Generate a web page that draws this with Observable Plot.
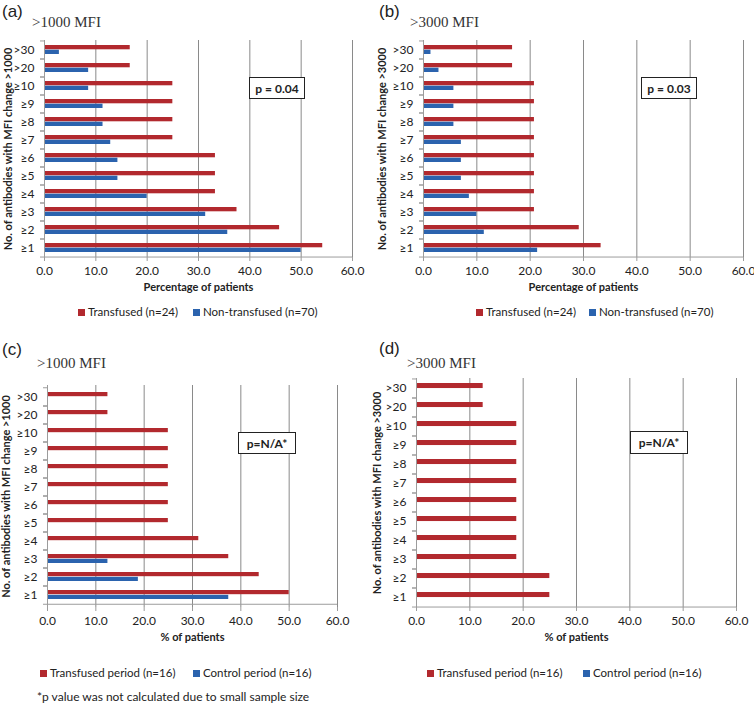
<!DOCTYPE html>
<html><head><meta charset="utf-8">
<script src="https://cdn.jsdelivr.net/npm/d3@7"></script>
<script src="https://cdn.jsdelivr.net/npm/@observablehq/plot@0.6"></script>
<style>
body{margin:0;background:#fff;}
#root{position:relative;width:754px;height:705px;overflow:hidden;font-family:Lato,sans-serif;color:#222;}
.letter{position:absolute;font-family:"Liberation Sans",Arial,sans-serif;font-size:17px;line-height:18px;color:#222;}
.sub{position:absolute;font-family:"Liberation Serif","Times New Roman",serif;font-size:15px;line-height:18px;color:#333;white-space:nowrap;}
.pbox{position:absolute;border:1px solid #222;box-sizing:border-box;font:bold 12px Lato,sans-serif;display:flex;align-items:center;justify-content:center;background:#fff;}
.leg{position:absolute;font:11.5px Lato,sans-serif;line-height:14px;color:#222;white-space:nowrap;display:flex;align-items:center;}
.sw{display:inline-block;width:7px;height:7px;margin-right:3px;}
.foot{position:absolute;font:12px Lato,sans-serif;line-height:14px;color:#222;white-space:nowrap;}
.chart{position:absolute;}
</style>
</head><body>
<div id="root"></div>
<script>
// ---- data ----
const categories = [">30", ">20", "≥10", "≥9", "≥8", "≥7", "≥6", "≥5", "≥4", "≥3", "≥2", "≥1"];
const xTicks = [0, 10, 20, 30, 40, 50, 60];

const aTransfused    = [16.7, 16.7, 25.0, 25.0, 25.0, 25.0, 33.3, 33.3, 33.3, 37.5, 45.8, 54.2];
const aNonTransfused = [2.9, 8.6, 8.6, 11.4, 11.4, 12.9, 14.3, 14.3, 20.0, 31.4, 35.7, 50.0];

const bTransfused    = [16.7, 16.7, 20.8, 20.8, 20.8, 20.8, 20.8, 20.8, 20.8, 20.8, 29.2, 33.3];
const bNonTransfused = [1.4, 2.9, 5.7, 5.7, 5.7, 7.1, 7.1, 7.1, 8.6, 10.0, 11.4, 21.4];

const cTransfusedPeriod = [12.5, 12.5, 25.0, 25.0, 25.0, 25.0, 25.0, 25.0, 31.3, 37.5, 43.8, 50.0];
const cControlPeriod    = [0, 0, 0, 0, 0, 0, 0, 0, 0, 12.5, 18.8, 37.5];

const dTransfusedPeriod = [12.5, 12.5, 18.8, 18.8, 18.8, 18.8, 18.8, 18.8, 18.8, 18.8, 25.0, 25.0];
const dControlPeriod    = [0, 0, 0, 0, 0, 0, 0, 0, 0, 0, 0, 0];

const RED = "#B2292E";
const BLUE = "#2B63AE";

const root = document.getElementById("root");

function addDiv(cls, style, html) {
  const d = document.createElement("div");
  d.className = cls;
  Object.assign(d.style, style);
  d.innerHTML = html;
  root.appendChild(d);
  return d;
}

function panel(o) {
  const step = o.plotH / categories.length;
  const bw = step * 0.52;
  const rows = categories.map((c, i) => ({cat: c, t: o.transf[i], v: o.other[i]}));
  const svg = Plot.plot({
    width: o.width, height: o.height,
    marginLeft: o.marginLeft, marginRight: o.marginRight,
    marginTop: 10, marginBottom: o.height - 10 - o.plotH,
    style: "background:transparent;overflow:visible;font-family:Lato,sans-serif;font-size:12px;color:#222;",
    x: {domain: [0, 60], label: null},
    y: {domain: categories, paddingInner: 0.48, paddingOuter: 0.24, label: null},
    marks: [
      Plot.ruleX(xTicks.slice(1), {stroke: "#8a8a8a", strokeWidth: 1}),
      Plot.barX(rows, {y: "cat", x1: 0, x2: "t", fill: RED, insetBottom: bw / 2}),
      Plot.barX(rows, {y: "cat", x1: 0, x2: "v", fill: BLUE, insetTop: bw / 2}),
      Plot.ruleX([0], {stroke: "#9c9c9c"}),
      Plot.ruleY([categories[categories.length - 1]], {y: d => d, dy: step / 2, stroke: "#9c9c9c"}),
      Plot.axisX({ticks: xTicks, tickFormat: d3.format(".1f"), tickSize: 4, tickPadding: 5, stroke: "#9c9c9c", fill: "#222", fontSize: 12, label: null}),
      Plot.axisY({tickSize: 0, tickPadding: 10, fill: "#222", fontSize: 12, label: null}),
      Plot.axisY({tickSize: 4, tickFormat: () => "", dy: step / 2, stroke: "#9c9c9c", label: null}),
      Plot.axisY({tickSize: 4, tickFormat: () => "", dy: -step / 2, stroke: "#9c9c9c", label: null}),
      Plot.text([o.xlabel], {text: d => d, frameAnchor: "bottom", dy: 33, fontWeight: "bold", fontSize: 11, fill: "#222"}),
      Plot.text([o.ylabel], {text: d => d, frameAnchor: "left", textAnchor: "middle", lineAnchor: "middle", rotate: -90, dx: o.ytitleDx, fontWeight: "bold", fontSize: 11, fill: "#222"})
    ]
  });
  const wrap = document.createElement("div");
  wrap.className = "chart";
  wrap.style.left = o.left + "px";
  wrap.style.top = o.top + "px";
  wrap.appendChild(svg);
  root.appendChild(wrap);
}

panel({left: 0, top: 30, width: 377, height: 275, marginLeft: 44, marginRight: 25, plotH: 217,
  transf: aTransfused, other: aNonTransfused, xlabel: "Percentage of patients",
  ylabel: "No. of antibodies with MFI change >1000", ytitleDx: -36});
panel({left: 377, top: 30, width: 377, height: 275, marginLeft: 46, marginRight: 11, plotH: 217,
  transf: bTransfused, other: bNonTransfused, xlabel: "Percentage of patients",
  ylabel: "No. of antibodies with MFI change >3000", ytitleDx: -41});
panel({left: 0, top: 375, width: 377, height: 277, marginLeft: 47, marginRight: 40, plotH: 222,
  transf: cTransfusedPeriod, other: cControlPeriod, xlabel: "% of patients",
  ylabel: "No. of antibodies with MFI change >1000", ytitleDx: -41});
panel({left: 365, top: 368, width: 389, height: 284, marginLeft: 51, marginRight: 18, plotH: 229,
  transf: dTransfusedPeriod, other: dControlPeriod, xlabel: "% of patients",
  ylabel: "No. of antibodies with MFI change >3000", ytitleDx: -39});

// panel letters and subtitles
addDiv("letter", {left: "2px", top: "3px"}, "(a)");
addDiv("letter", {left: "379px", top: "3px"}, "(b)");
addDiv("letter", {left: "2px", top: "341px"}, "(c)");
addDiv("letter", {left: "379px", top: "340px"}, "(d)");
addDiv("sub", {left: "32px", top: "13px"}, "&gt;1000 MFI");
addDiv("sub", {left: "410px", top: "13px"}, "&gt;3000 MFI");
addDiv("sub", {left: "37px", top: "354px"}, "&gt;1000 MFI");
addDiv("sub", {left: "407px", top: "354px"}, "&gt;3000 MFI");

// p-value boxes
addDiv("pbox", {left: "249px", top: "77px", width: "56px", height: "22px"}, "p = 0.04");
addDiv("pbox", {left: "641px", top: "77px", width: "56px", height: "22px"}, "p = 0.03");
addDiv("pbox", {left: "238px", top: "432px", width: "58px", height: "22px"}, "p=N/A*");
addDiv("pbox", {left: "630px", top: "431px", width: "58px", height: "23px"}, "p=N/A*");

// legends
function legItem(x, y, color, label) {
  addDiv("leg", {left: x + "px", top: (y - 7) + "px"}, `<span class="sw" style="background:${color}"></span>${label}`);
}
legItem(78, 312, RED, "Transfused (n=24)");
legItem(193, 312, BLUE, "Non-transfused (n=70)");
legItem(476, 312, RED, "Transfused (n=24)");
legItem(589, 312, BLUE, "Non-transfused (n=70)");
legItem(40, 673, RED, "Transfused period (n=16)");
legItem(193, 673, BLUE, "Control period (n=16)");
legItem(427, 673, RED, "Transfused period (n=16)");
legItem(583, 673, BLUE, "Control period (n=16)");

addDiv("foot", {left: "37px", top: "690px"}, "*p value was not calculated due to small sample size");
</script>
</body></html>
